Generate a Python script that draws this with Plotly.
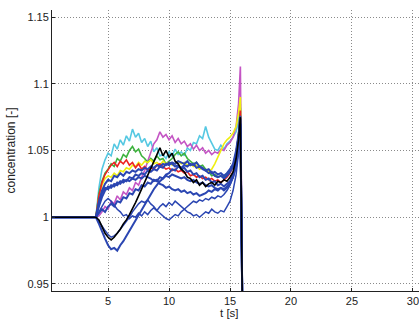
import plotly.graph_objects as go

T = [0.4, 4.0, 4.25, 4.5, 4.75, 5.0, 5.25, 5.5, 5.75, 6.0, 6.25, 6.5, 6.75, 7.0, 7.25, 7.5, 7.75,
     8.0, 8.25, 8.5, 8.75, 9.0, 9.25, 9.5, 9.75, 10.0, 10.25, 10.5, 10.75, 11.0, 11.25, 11.5, 11.75,
     12.0, 12.25, 12.5, 12.75, 13.0, 13.25, 13.5, 13.75, 14.0, 14.25, 14.5, 14.75, 15.0, 15.25, 15.5,
     15.7, 15.85, 16.05]

cyan = [1.0, 1.0, 1.022, 1.036, 1.043, 1.048, 1.046, 1.055, 1.051, 1.058, 1.054, 1.061, 1.057, 1.066, 1.06, 1.063,
        1.056, 1.059, 1.053, 1.057, 1.049, 1.052, 1.046, 1.047, 1.044, 1.049, 1.046, 1.051, 1.047, 1.049, 1.046,
        1.052, 1.05, 1.056, 1.055, 1.061, 1.059, 1.068, 1.06, 1.055, 1.051, 1.05, 1.054, 1.051, 1.055, 1.057,
        1.06, 1.064, 1.072, 1.085, 0.9]
magenta = [1.0, 1.0, 1.001, 1.004, 1.008, 1.006, 1.012, 1.01, 1.016, 1.013, 1.019, 1.017, 1.022, 1.02, 1.026, 1.024,
           1.03, 1.035, 1.042, 1.048, 1.055, 1.058, 1.064, 1.06, 1.062, 1.058, 1.061, 1.056, 1.059, 1.055, 1.057,
           1.053, 1.055, 1.051, 1.054, 1.05, 1.052, 1.048, 1.05, 1.047, 1.049, 1.048, 1.051, 1.05, 1.054, 1.056,
           1.06, 1.068, 1.085, 1.113, 0.9]
green = [1.0, 1.0, 1.018, 1.027, 1.033, 1.036, 1.04, 1.038, 1.044, 1.042, 1.047, 1.045, 1.05, 1.053, 1.049, 1.051,
         1.046, 1.044, 1.041, 1.044, 1.042, 1.046, 1.043, 1.044, 1.04, 1.042, 1.044, 1.047, 1.049, 1.046, 1.048,
         1.044, 1.042, 1.04, 1.041, 1.038, 1.039, 1.036, 1.034, 1.031, 1.032, 1.03, 1.031, 1.03, 1.033, 1.035,
         1.038, 1.046, 1.062, 1.082, 0.9]
yellow = [1.0, 1.0, 1.015, 1.024, 1.029, 1.031, 1.03, 1.033, 1.031, 1.035, 1.034, 1.037, 1.036, 1.039, 1.038, 1.041,
          1.039, 1.042, 1.041, 1.043, 1.04, 1.041, 1.039, 1.042, 1.04, 1.041, 1.039, 1.04, 1.042, 1.04, 1.041,
          1.039, 1.04, 1.038, 1.039, 1.036, 1.037, 1.035, 1.034, 1.036, 1.04, 1.045, 1.05, 1.055, 1.058, 1.06,
          1.063, 1.068, 1.078, 1.09, 0.9]
red = [1.0, 1.0, 1.016, 1.026, 1.032, 1.036, 1.039, 1.041, 1.038, 1.042, 1.04, 1.043, 1.039, 1.041, 1.037, 1.04,
       1.036, 1.038, 1.035, 1.037, 1.036, 1.039, 1.04, 1.038, 1.036, 1.037, 1.035, 1.036, 1.034, 1.035, 1.033,
       1.034, 1.031, 1.032, 1.03, 1.031, 1.029, 1.03, 1.028, 1.029, 1.027, 1.028, 1.026, 1.028, 1.03, 1.033,
       1.038, 1.048, 1.062, 1.08, 0.9]
black = [1.0, 1.0, 0.998, 0.993, 0.988, 0.985, 0.983, 0.985, 0.988, 0.991, 0.995, 0.998, 1.002, 1.006, 1.011, 1.016,
         1.021, 1.026, 1.031, 1.036, 1.041, 1.047, 1.052, 1.046, 1.05, 1.045, 1.048, 1.042, 1.04, 1.036, 1.034,
         1.03, 1.029, 1.026, 1.028, 1.024, 1.026, 1.023, 1.025, 1.026, 1.024, 1.027, 1.026, 1.028, 1.027, 1.03,
         1.034, 1.044, 1.058, 1.075, 0.9]
blue1 = [1.0, 1.0, 0.995, 0.989, 0.984, 0.979, 0.976, 0.977, 0.975, 0.979, 0.982, 0.986, 0.99, 0.994, 0.998, 1.002,
         1.006, 1.01, 1.014, 1.017, 1.021, 1.024, 1.027, 1.029, 1.032, 1.033, 1.036, 1.035, 1.038, 1.037, 1.039,
         1.038, 1.04, 1.039, 1.041, 1.038, 1.037, 1.035, 1.036, 1.033, 1.034, 1.032, 1.033, 1.031, 1.033, 1.036,
         1.04, 1.05, 1.062, 1.076, 0.9]
blue2 = [1.0, 1.0, 1.012, 1.02, 1.025, 1.028, 1.027, 1.031, 1.03, 1.033, 1.031, 1.034, 1.033, 1.035, 1.034, 1.036,
         1.035, 1.037, 1.036, 1.038, 1.037, 1.039, 1.038, 1.04, 1.039, 1.041, 1.04, 1.038, 1.039, 1.036, 1.037,
         1.034, 1.035, 1.032, 1.033, 1.03, 1.031, 1.028, 1.029, 1.026, 1.027, 1.024, 1.025, 1.023, 1.025, 1.027,
         1.032, 1.042, 1.056, 1.07, 0.9]
blue3 = [1.0, 1.0, 1.004, 1.008, 1.012, 1.014, 1.012, 1.009, 1.006, 1.004, 1.001, 1.002, 0.999, 1.001, 1.0, 1.003,
         1.001, 1.004, 1.002, 1.005, 1.007, 1.005, 1.008, 1.01, 1.008, 1.011, 1.009, 1.012, 1.01, 1.008, 1.006,
         1.004, 1.003, 1.001, 1.002, 1.0, 1.002, 1.004, 1.003, 1.006, 1.004, 1.003, 1.005, 1.004, 1.008, 1.012,
         1.02, 1.032, 1.048, 1.065, 0.9]
blue4 = [1.0, 1.0, 0.997, 0.993, 0.99, 0.987, 0.985, 0.986, 0.988, 0.991, 0.994, 0.997, 1.0, 1.004, 1.007, 1.01,
         1.012, 1.011, 1.013, 1.01, 1.008, 1.005, 1.003, 1.001, 0.999, 0.998, 1.0, 1.002, 1.001, 1.004, 1.006,
         1.008, 1.01, 1.012, 1.011, 1.013, 1.012, 1.014, 1.013, 1.015, 1.014, 1.016, 1.015, 1.017, 1.02, 1.024,
         1.03, 1.04, 1.055, 1.068, 0.9]
blue5 = [1.0, 1.0, 1.008, 1.015, 1.02, 1.023, 1.022, 1.025, 1.024, 1.027, 1.026, 1.028, 1.027, 1.029, 1.028, 1.03,
         1.029, 1.031, 1.03, 1.029, 1.027, 1.028, 1.025, 1.024, 1.022, 1.023, 1.021, 1.02, 1.021, 1.019, 1.02,
         1.018, 1.019, 1.017, 1.018, 1.016, 1.017, 1.018, 1.02, 1.019, 1.021, 1.02, 1.022, 1.021, 1.023, 1.026,
         1.03, 1.04, 1.055, 1.07, 0.9]
blue6 = [1.0, 1.0, 1.003, 1.006, 1.004, 1.008, 1.01, 1.008, 1.012, 1.011, 1.015, 1.014, 1.018, 1.017, 1.021, 1.02,
         1.024, 1.023, 1.026, 1.025, 1.028, 1.027, 1.03, 1.029, 1.031, 1.03, 1.032, 1.031, 1.03, 1.029, 1.03,
         1.028, 1.027, 1.028, 1.026, 1.025, 1.026, 1.024, 1.023, 1.024, 1.022, 1.021, 1.022, 1.02, 1.022, 1.025,
         1.03, 1.038, 1.052, 1.068, 0.9]
blue7 = [1.0, 1.0, 1.01, 1.018, 1.022, 1.021, 1.024, 1.023, 1.026, 1.025, 1.028, 1.027, 1.03, 1.029, 1.032, 1.031,
         1.033, 1.032, 1.035, 1.034, 1.036, 1.035, 1.038, 1.037, 1.04, 1.039, 1.041, 1.04, 1.042, 1.041, 1.04,
         1.042, 1.039, 1.04, 1.037, 1.038, 1.036, 1.035, 1.033, 1.034, 1.031, 1.03, 1.031, 1.029, 1.031, 1.034,
         1.038, 1.048, 1.06, 1.074, 0.9]

x_ticks = [5, 10, 15, 20, 25, 30]
y_ticks = [0.95, 1.0, 1.05, 1.1, 1.15]
y_tick_text = ["0.95", "1", "1.05", "1.1", "1.15"]

BLUE = "#2B46B2"
series = [
    (cyan, "#55C8E2", 1.6),
    (magenta, "#C455C4", 1.6),
    (green, "#3DB23D", 1.6),
    (yellow, "#EEEE10", 1.6),
    (red, "#EE2222", 1.6),
    (blue1, BLUE, 2.0),
    (blue2, BLUE, 2.0),
    (blue3, BLUE, 1.5),
    (blue4, BLUE, 1.5),
    (blue5, BLUE, 2.0),
    (blue6, BLUE, 2.0),
    (blue7, BLUE, 2.0),
    (black, "#000000", 1.6),
]

fig = go.Figure()
for ys, col, w in series:
    fig.add_trace(go.Scatter(x=T, y=ys, mode="lines", line=dict(color=col, width=w),
                             showlegend=False, hoverinfo="skip"))

axis_font = dict(family="Liberation Sans, Arial, sans-serif", size=11, color="#222")
grid = dict(showgrid=True, gridcolor="#8a8a8a", griddash="1px,2px", gridwidth=1)
fig.update_layout(
    width=419, height=320,
    margin=dict(l=52, r=0, t=10, b=29),
    paper_bgcolor="white", plot_bgcolor="white",
    font=axis_font,
    xaxis=dict(range=[0.4, 30.5], tickvals=x_ticks, ticks="inside", ticklen=3,
               tickcolor="#222", showline=True, linecolor="#222", linewidth=1,
               zeroline=False, tickfont=axis_font, ticklabeloverflow="allow", **grid),
    yaxis=dict(range=[0.9447, 1.1553], tickvals=y_ticks, ticktext=y_tick_text,
               ticks="inside", ticklen=3, tickcolor="#222", showline=True,
               linecolor="#222", linewidth=1, zeroline=False, tickfont=axis_font, **grid),
    annotations=[
        dict(text="t [s]", xref="paper", yref="paper", x=0.485, y=0, yshift=-22,
             xanchor="center", yanchor="middle", showarrow=False,
             font=dict(family="Liberation Sans, Arial, sans-serif", size=11.5, color="#222")),
        dict(text="concentration [-]", xref="paper", yref="paper", x=0, xshift=-33,
             y=0.5, textangle=-90, xanchor="right", yanchor="middle", showarrow=False,
             font=dict(family="Liberation Sans, Arial, sans-serif", size=12, color="#222")),
    ],
)

fig.write_html("out.html")
